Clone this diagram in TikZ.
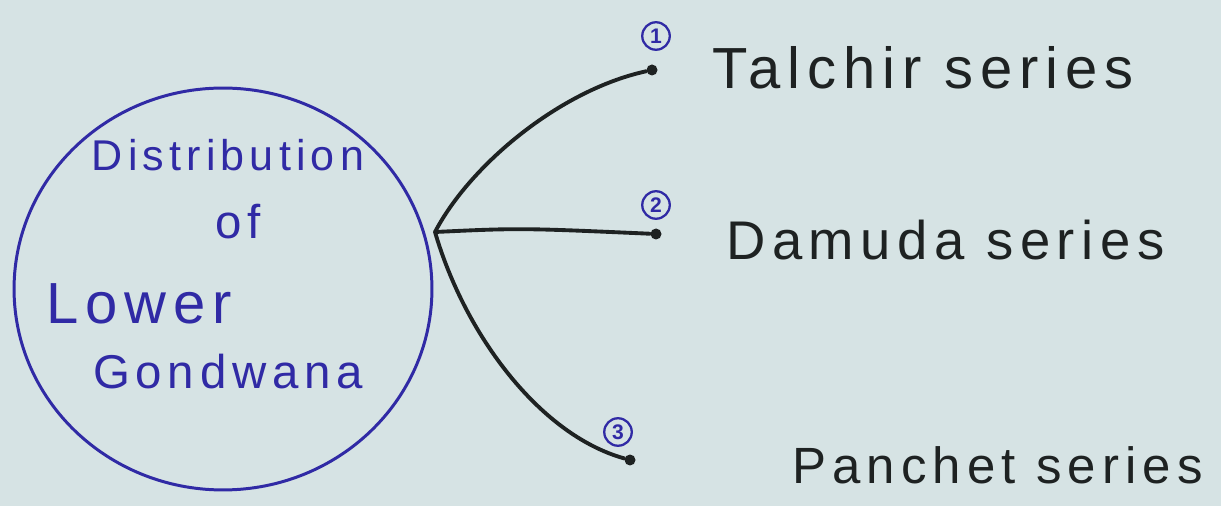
\documentclass[tikz,border=0pt]{standalone}
\usepackage{fontspec}
\setmainfont{Liberation Sans}
\newfontfamily\widehand[LetterSpace=12]{Liberation Sans}
\usetikzlibrary{shapes.geometric}
\definecolor{paper}{RGB}{214,227,228}
\definecolor{pen}{RGB}{48,42,165}
\definecolor{ink}{RGB}{30,34,34}
\begin{document}
\begin{tikzpicture}[x=0.02cm, y=-0.02cm,
  num/.style={circle, draw=pen, text=pen, line width=1.3pt, inner sep=0.5pt, minimum size=0.55cm, font=\fontsize{12}{13}\selectfont\bfseries},
  dot/.style={circle, fill=ink, inner sep=0pt, minimum size=0.22cm},
  series/.style={anchor=west, text=ink, font=\widehand\fontsize{33}{38}\selectfont},
  topic/.style={text=pen, font=\widehand\fontsize{27}{32}\selectfont},
  link/.style={draw=ink, line width=2.2pt, line cap=round}]
% paper
\fill[paper] (0,0) rectangle (1221,506);
\useasboundingbox (0,0) rectangle (1221,506);
% circle with the topic
\node[ellipse, draw=pen, line width=1.7pt, minimum width=8.36cm, minimum height=8.04cm] (hub) at (223,289) {};
\node[topic, font=\widehand\fontsize{24.5}{30}\selectfont] (dist) at (228,155) {Distribution};
\node[topic] (of) at (238,222) {of};
\node[topic, anchor=west, font=\widehand\fontsize{33}{38}\selectfont] (lower) at (40,304) {Lower};
\node[topic] (gond) at (228,372) {Gondwana};
% branches
\coordinate (root) at (435,232);
\node[dot] (t1) at (652,70) {};
\node[dot] (t2) at (656,234) {};
\node[dot] (t3) at (630,460) {};
\draw[link] (root) .. controls (470,165) and (560,90) .. (t1);
\draw[link] (root) .. controls (520,228) .. (t2);
\draw[link] (root) .. controls (465,335) and (540,435) .. (t3);
% numbers
\node[num] (n1) at (656,36) {1};
\node[num] (n2) at (656,205) {2};
\node[num] (n3) at (618,432) {3};
% series
\node[series] (talchir) at (706,68) {Talchir series};
\node[series, font=\widehand\fontsize{31}{36}\selectfont] (damuda) at (720,240) {Damuda series};
\node[series, font=\widehand\fontsize{29}{34}\selectfont] (panchet) at (786,465) {Panchet series};
\end{tikzpicture}
\end{document}
